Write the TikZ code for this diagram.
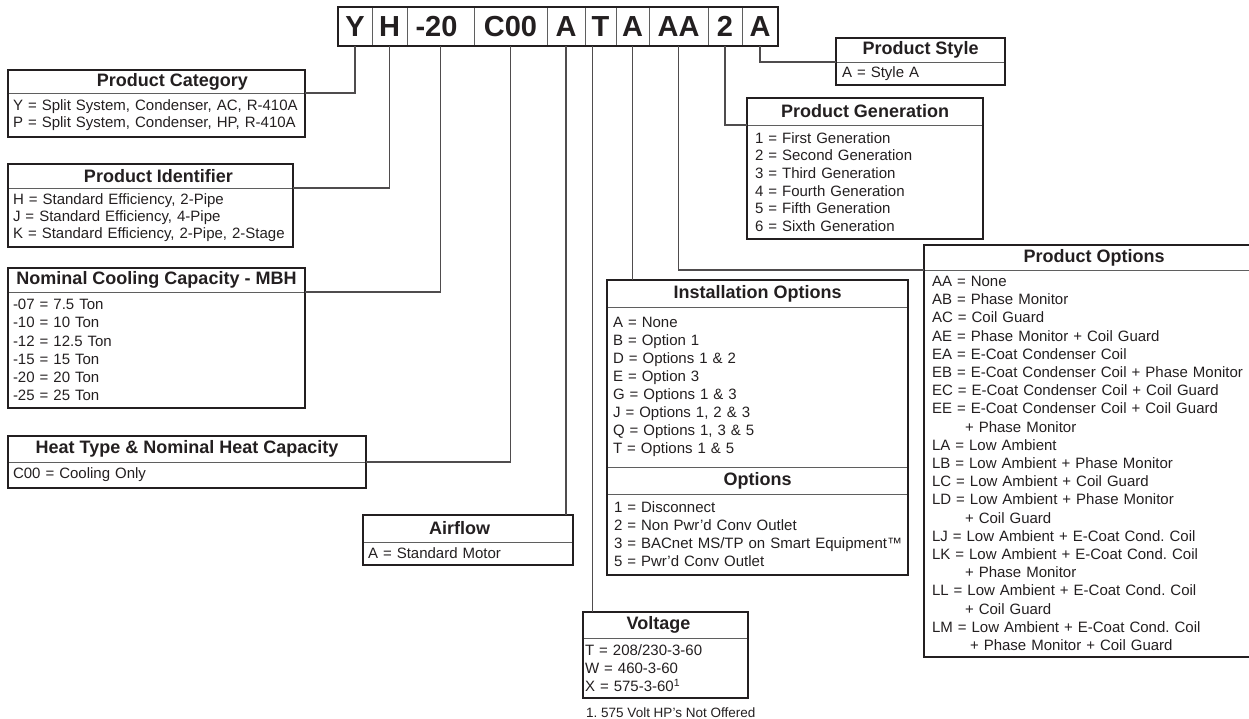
\documentclass[tikz,border=0pt]{standalone}
\usepackage{fontspec}
\setmainfont{Liberation Sans}
\usetikzlibrary{positioning}

\definecolor{ink}{RGB}{35,31,32}
\definecolor{rulegray}{RGB}{95,95,95}

\begin{document}
\frenchspacing
\begin{tikzpicture}[
        x = 1pt, y = -1pt, % sheet in pixels, y pointing down
        every node/.style = {text=ink},
        frame/.style = {draw=ink, line width=2.4pt}, % heavy outline of a box
        cell/.style = {draw=rulegray, line width=.8pt, outer sep=0pt,
                       minimum height=39pt, inner sep=0pt,
                       font=\bfseries\fontsize{29}{29}\selectfont},
        title/.style = {draw=rulegray, line width=.8pt, outer sep=0pt,
                        anchor=north west, inner sep=0pt,
                        font=\bfseries\fontsize{18}{18}\selectfont},
        body/.style = {draw=rulegray, line width=.8pt, outer sep=0pt,
                       anchor=north west, inner xsep=5pt, inner ysep=0pt,
                       align=left, font=\fontsize{15}{18}\selectfont},
        leader/.style = {draw=ink!80, line width=1.1pt}
    ]
    \useasboundingbox (0,0) rectangle (1249,719);
    \clip (0,0) rectangle (1249,719);

    % model number
    \node[cell, minimum width=34pt] (cY) at (355,26.5) {Y};
    \node[cell, minimum width=35pt, right=0pt of cY]    (cH)     {H};
    \node[cell, minimum width=67pt, right=0pt of cH]    (cCap)   {-20\hspace*{8pt}};
    \node[cell, minimum width=73pt, right=0pt of cCap]  (cHeat)  {C00};
    \node[cell, minimum width=38pt, right=0pt of cHeat] (cAir)   {A};
    \node[cell, minimum width=31pt, right=0pt of cAir]  (cVolt)  {T};
    \node[cell, minimum width=33pt, right=0pt of cVolt] (cInst)  {A};
    \node[cell, minimum width=59pt, right=0pt of cInst] (cOpt)   {AA};
    \node[cell, minimum width=34pt, right=0pt of cOpt]  (cGen)   {2};
    \node[cell, minimum width=36pt, right=0pt of cGen]  (cStyle) {A};
    \draw[frame] (cY.north west) rectangle (cStyle.south east);

    % left column
    \node[title, minimum width=297pt, minimum height=23pt] (catT) at (8,70) {\hspace*{32pt}Product Category};
    \node[body, text width=287pt, minimum height=44pt, font=\fontsize{15}{16.5}\selectfont] (cat) at (catT.south west)
        {Y = Split System, Condenser, AC, R-410A\\P = Split System, Condenser, HP, R-410A};
    \draw[frame] (catT.north west) rectangle (cat.south east);

    \node[title, minimum width=285pt, minimum height=24pt] (idT) at (8,164) {\hspace*{16pt}Product Identifier};
    \node[body, text width=275pt, minimum height=59pt, font=\fontsize{15}{17}\selectfont] (id) at (idT.south west)
        {H = Standard Efficiency, 2-Pipe\\J = Standard Efficiency, 4-Pipe\\K = Standard Efficiency, 2-Pipe, 2-Stage};
    \draw[frame] (idT.north west) rectangle (id.south east);

    \node[title, minimum width=297pt, minimum height=24pt] (capT) at (8,268) {Nominal Cooling Capacity - MBH};
    \node[body, text width=287pt, minimum height=116pt, font=\fontsize{15}{18.2}\selectfont] (cap) at (capT.south west)
        {-07 = 7.5 Ton\\-10 = 10 Ton\\-12 = 12.5 Ton\\-15 = 15 Ton\\-20 = 20 Ton\\-25 = 25 Ton};
    \draw[frame] (capT.north west) rectangle (cap.south east);

    \node[title, minimum width=358pt, minimum height=26pt] (heatT) at (8,436) {Heat Type \& Nominal Heat Capacity};
    \node[body, text width=348pt, minimum height=26pt] (heat) at (heatT.south west) {C00 = Cooling Only};
    \draw[frame] (heatT.north west) rectangle (heat.south east);

    % middle
    \node[title, minimum width=210pt, minimum height=27pt] (airT) at (363,515) {Airflow\hspace*{17pt}};
    \node[body, text width=200pt, minimum height=23pt] (air) at (airT.south west) {A = Standard Motor};
    \draw[frame] (airT.north west) rectangle (air.south east);

    \node[title, minimum width=165pt, minimum height=26pt] (voltT) at (583,612) {Voltage\hspace*{14pt}};
    \node[body, inner xsep=2pt, text width=161pt, minimum height=60pt] (volt) at (voltT.south west)
        {T = 208/230-3-60\\W = 460-3-60\\X = 575-3-60\textsuperscript{1}};
    \draw[frame] (voltT.north west) rectangle (volt.south east);
    \node[anchor=west, inner sep=0pt, font=\fontsize{13.5}{14}\selectfont] (note) at (586,713)
        {1. 575 Volt HP’s Not Offered};

    \node[title, minimum width=301pt, minimum height=27pt] (instT) at (607,280) {Installation Options};
    \node[body, inner xsep=6pt, text width=289pt, minimum height=160pt, font=\fontsize{15}{17.9}\selectfont] (inst) at (instT.south west)
        {A = None\\B = Option 1\\D = Options 1 \& 2\\E = Option 3\\G = Options 1 \& 3\\J = Options 1, 2 \& 3\\Q = Options 1, 3 \& 5\\T = Options 1 \& 5};
    \node[title, minimum width=301pt, minimum height=27pt] (subT) at (inst.south west) {Options};
    \node[body, inner xsep=7pt, text width=287pt, minimum height=81pt] (sub) at (subT.south west)
        {1 = Disconnect\\2 = Non Pwr’d Conv Outlet\\\mbox{3 = BACnet MS/TP on Smart Equipment™}\\5 = Pwr’d Conv Outlet};
    \draw[frame] (instT.north west) rectangle (sub.south east);

    % right column
    \node[title, minimum width=169pt, minimum height=24pt] (styleT) at (836,38) {Product Style};
    \node[body, inner xsep=6pt, text width=157pt, minimum height=23pt] (style) at (styleT.south west) {A = Style A};
    \draw[frame] (styleT.north west) rectangle (style.south east);

    \node[title, minimum width=236pt, minimum height=27pt] (genT) at (747,98) {Product Generation};
    \node[body, inner xsep=8pt, text width=220pt, minimum height=114pt, font=\fontsize{15}{17.7}\selectfont] (gen) at (genT.south west)
        {1 = First Generation\\2 = Second Generation\\3 = Third Generation\\4 = Fourth Generation\\5 = Fifth Generation\\6 = Sixth Generation};
    \draw[frame] (genT.north west) rectangle (gen.south east);

    \node[title, minimum width=340pt, minimum height=25pt] (optT) at (924,245) {Product Options};
    \node[body, inner xsep=8pt, text width=324pt, minimum height=387pt, font=\fontsize{15}{18.2}\selectfont] (opt) at (optT.south west)
        {AA = None\\AB = Phase Monitor\\AC = Coil Guard\\AE = Phase Monitor + Coil Guard\\EA = E-Coat Condenser Coil\\
         EB = E-Coat Condenser Coil + Phase Monitor\\EC = E-Coat Condenser Coil + Coil Guard\\
         EE = E-Coat Condenser Coil + Coil Guard\\\hspace*{33pt}+ Phase Monitor\\
         LA = Low Ambient\\LB = Low Ambient + Phase Monitor\\LC = Low Ambient + Coil Guard\\
         LD = Low Ambient + Phase Monitor\\\hspace*{33pt}+ Coil Guard\\
         LJ = Low Ambient + E-Coat Cond. Coil\\LK = Low Ambient + E-Coat Cond. Coil\\\hspace*{33pt}+ Phase Monitor\\
         LL = Low Ambient + E-Coat Cond. Coil\\\hspace*{33pt}+ Coil Guard\\
         LM = Low Ambient + E-Coat Cond. Coil\\\hspace*{38pt}+ Phase Monitor + Coil Guard};
    \draw[frame] (optT.north west) rectangle (opt.south east);

    % leaders from the digits
    \coordinate (vTap) at ([xshift=-8pt]cVolt.south);
    \draw[leader] (cY.south) |- (catT.south east);
    \draw[leader] (cH.south) |- (idT.south east);
    \draw[leader] (cCap.south) |- (capT.south east);
    \draw[leader] (cHeat.south) |- (heatT.south east);
    \draw[leader] (cAir.south) -- (cAir.south |- airT.north);
    \draw[leader] (vTap) -- (vTap |- voltT.north);
    \draw[leader] (cInst.south) -- (cInst.south |- instT.north);
    \draw[leader] (cOpt.south) |- (optT.south west);
    \draw[leader] (cGen.south) |- (genT.south west);
    \draw[leader] (cStyle.south) |- (styleT.south west);
\end{tikzpicture}
\end{document}
